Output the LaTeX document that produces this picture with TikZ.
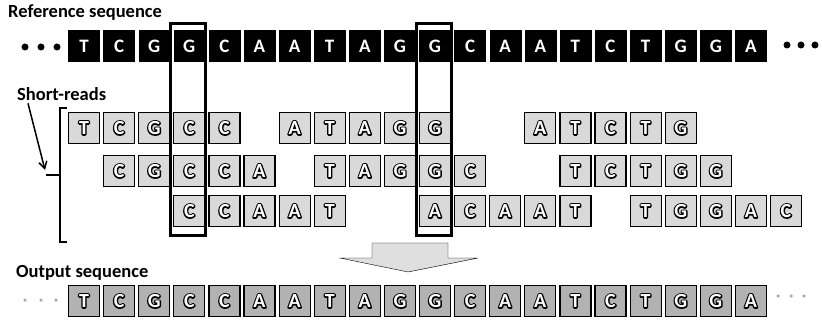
\documentclass[tikz,border=0pt]{standalone}
\usepackage{fontspec}
\setmainfont{Carlito}
\usetikzlibrary{positioning, arrows.meta, calc}
\newcommand{\olet}[1]{\rlap{\special{pdf:literal direct 1 Tr 0 G 2.6 w 1 j}#1\special{pdf:literal direct 0 Tr}}#1}

\begin{document}
\begin{tikzpicture}[x=1pt, y=-1pt,
        base/.style={rectangle, draw=black, minimum size=31pt, inner sep=0pt, font=\bfseries\fontsize{20}{20}\selectfont},
        refbox/.style={base, fill=black, text=white, font=\bfseries\fontsize{19}{19}\selectfont},
        readbox/.style={base, fill=gray!30, text=white, line width=1.2pt},
        outbox/.style={base, fill=gray!60, text=white, line width=1.2pt},
        hl/.style={draw=black, line width=2.8pt},
        brack/.style={draw=black, line width=2.4pt},
        pointer/.style={-{Straight Barb[length=7pt, width=8pt]}, line width=1.5pt, draw=black},
        title/.style={font=\bfseries\fontsize{18.5}{20}\selectfont, anchor=base west, inner sep=0pt},
        bigdot/.style={circle, fill=black, inner sep=0pt, minimum size=7pt},
        smalldot/.style={circle, fill=gray!70, inner sep=0pt, minimum size=3.5pt}
    ]
    \useasboundingbox (0,0) rectangle (822,321);
    \node[title] (reflbl) at (8,18) {Reference sequence};
    \node[title] (srlbl) at (17,100) {Short-reads};
    \node[title] (outlbl) at (16,277) {Output sequence};
    \foreach \l [count=\i from 0] in {T,C,G,G,C,A,A,T,A,G,G,C,A,A,T,C,T,G,G,A}
        \node[refbox] (ref\i) at (84+35.1*\i, 46) {\l};
    \foreach \l [count=\i from 0] in {T,C,G,C,C,A,A,T,A,G,G,C,A,A,T,C,T,G,G,A}
        \node[outbox] (out\i) at (84+35.1*\i, 301) {\olet{\l}};
    \foreach \l [count=\i from 0] in {T,C,G,C,C}
        \node[readbox] (s1a-\i) at (84+35.1*\i, 128) {\olet{\l}};
    \foreach \l [count=\i from 0] in {A,T,A,G,G}
        \node[readbox] (s1b-\i) at (84+35.1*\i+35.1*6, 128) {\olet{\l}};
    \foreach \l [count=\i from 0] in {A,T,C,T,G}
        \node[readbox] (s1c-\i) at (84+35.1*\i+35.1*13, 128) {\olet{\l}};
    \foreach \l [count=\i from 0] in {C,G,C,C,A}
        \node[readbox] (s2a-\i) at (84+35.1*\i+35.1, 171) {\olet{\l}};
    \foreach \l [count=\i from 0] in {T,A,G,G,C}
        \node[readbox] (s2b-\i) at (84+35.1*\i+35.1*7, 171) {\olet{\l}};
    \foreach \l [count=\i from 0] in {T,C,T,G,G}
        \node[readbox] (s2c-\i) at (84+35.1*\i+35.1*14, 171) {\olet{\l}};
    \foreach \l [count=\i from 0] in {C,C,A,A,T}
        \node[readbox] (s3a-\i) at (84+35.1*\i+35.1*3, 211) {\olet{\l}};
    \foreach \l [count=\i from 0] in {A,C,A,A,T}
        \node[readbox] (s3b-\i) at (84+35.1*\i+35.1*10, 211) {\olet{\l}};
    \foreach \l [count=\i from 0] in {T,G,G,A,C}
        \node[readbox] (s3c-\i) at (84+35.1*\i+35.1*16, 211) {\olet{\l}};
    \foreach \x in {25,41,57} \node[bigdot] at (\x,47) {};
    \foreach \x in {787,801,815} \node[bigdot] at (\x,45) {};
    \foreach \x in {25,41,56} \node[smalldot] at (\x,300) {};
    \foreach \x in {778,791,804} \node[smalldot] at (\x,296) {};
    \draw[hl] ([xshift=-3pt, yshift=7pt]ref3.north west) rectangle ([xshift=0pt, yshift=-8pt]s3a-0.south east);
    \draw[hl] ([xshift=-3pt, yshift=7pt]ref10.north west) rectangle ([xshift=0pt, yshift=-8pt]s3b-0.south east);
    \draw[brack] (67,108) -- (60,108) -- (60,242) -- (67,242);
    \draw[brack] (60,175) -- (46,175);
    \coordinate (bkin) at (45,170);
    \draw[pointer] ([xshift=11pt, yshift=-3pt]srlbl.south west) -- (bkin);
    \draw[fill=gray!25, draw=black, thin] (372,243) -- (448,243) -- (448,258) -- (478,258) -- (408,272) -- (340,258) -- (372,258) -- cycle;
\end{tikzpicture}
\end{document}
